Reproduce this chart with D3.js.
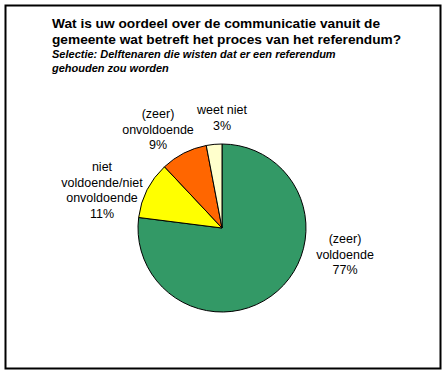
<!DOCTYPE html>
<html>
<head>
<meta charset="utf-8">
<script src="https://cdn.jsdelivr.net/npm/d3@7"></script>
<style>
body { margin: 0; background: #fff; }
text { font-family: "Liberation Sans", Arial, sans-serif; fill: #000; }
</style>
</head>
<body>
<div id="chart"></div>
<script>
const WIDTH = 447, HEIGHT = 375;

const categories = ["(zeer) voldoende", "niet voldoende/niet onvoldoende", "(zeer) onvoldoende", "weet niet"];
const values = [77, 11, 9, 3];
const colors = ["#339966", "#ffff00", "#ff6600", "#ffffcc"];
// label lines for each slice
const labelLines = [
    ["(zeer)", "voldoende", "77%"],
    ["niet", "voldoende/niet", "onvoldoende", "11%"],
    ["(zeer)", "onvoldoende", "9%"],
    ["weet niet", "3%"]
];
const titleLines = ["Wat is uw oordeel over de communicatie vanuit de",
    "gemeente wat betreft het proces van het referendum?"];
const subtitleLines = ["Selectie: Delftenaren die wisten dat er een referendum",
    "gehouden zou worden"];

const cx = 222, cy = 228, R = 84;
// label anchor positions (center x, first baseline y)
const labelPos = [[345, 243], [102, 171], [158, 118], [222, 114]];

let svg = d3.select("#chart")
    .append("svg")
    .attr("width", WIDTH)
    .attr("height", HEIGHT);

svg.append("rect")
    .attr("x", 5.5).attr("y", 5.5)
    .attr("width", 435).attr("height", 363)
    .attr("fill", "#fff")
    .attr("stroke", "#000")
    .attr("stroke-width", 2);

titleLines.forEach(function(t, i) {
    svg.append("text")
        .attr("x", 52).attr("y", 28 + i * 16)
        .style("font-size", "13.7px")
        .style("font-weight", "bold")
        .text(t);
});
subtitleLines.forEach(function(t, i) {
    svg.append("text")
        .attr("x", 52).attr("y", 58 + i * 14)
        .style("font-size", "11px")
        .style("font-weight", "bold")
        .style("font-style", "italic")
        .text(t);
});

let pie = d3.pie().sort(null).value(d => d);
let arc = d3.arc().innerRadius(0).outerRadius(R);

let g = svg.append("g").attr("transform", `translate(${cx}, ${cy})`);
g.selectAll("path")
    .data(pie(values))
    .enter()
    .append("path")
    .attr("d", arc)
    .attr("fill", (d, i) => colors[i])
    .attr("stroke", "#000")
    .attr("stroke-width", 1);

labelLines.forEach(function(lines, i) {
    lines.forEach(function(l, j) {
        svg.append("text")
            .attr("x", labelPos[i][0])
            .attr("y", labelPos[i][1] + j * 15.5)
            .style("text-anchor", "middle")
            .style("font-size", "12.5px")
            .text(l);
    });
});
</script>
</body>
</html>
